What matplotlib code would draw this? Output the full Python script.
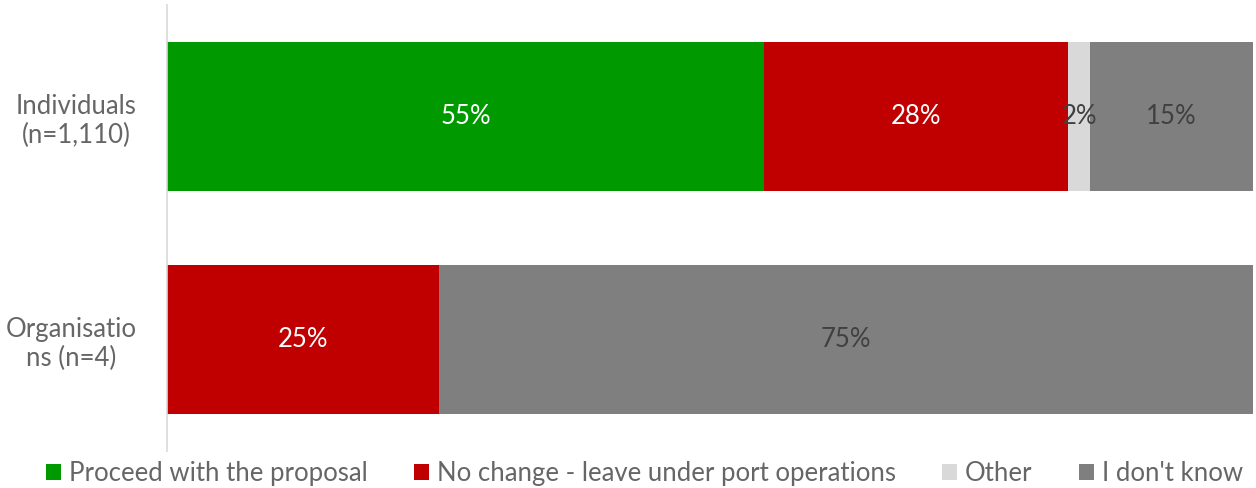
import numpy as np
import matplotlib
matplotlib.use("Agg")
import matplotlib.pyplot as plt

plt.rcParams["font.family"] = ["Lato", "DejaVu Sans"]

groups = ["Individuals\n(n=1,110)", "Organisatio\nns (n=4)"]
answers = ["Proceed with the proposal", "No change - leave under port operations",
           "Other", "I don't know"]
shares = {
    "Proceed with the proposal": [55, 0],
    "No change - leave under port operations": [28, 25],
    "Other": [2, 0],
    "I don't know": [15, 75],
}
colors = ["#009900", "#c00000", "#d9d9d9", "#7f7f7f"]
label_colors = ["white", "white", "#404040", "#404040"]
fsize = 18.5

fig = plt.figure(figsize=(12.56, 4.88), dpi=100)
ax = fig.add_axes([167 / 1256, 37 / 488, 1086 / 1256, 446 / 488])

y = np.arange(len(groups))
left = np.zeros(len(groups))
for ans, col, lc in zip(answers, colors, label_colors):
    vals = np.array(shares[ans], dtype=float)
    ax.barh(y, vals, left=left, height=0.664, color=col, label=ans)
    for yi, v, l in zip(y, vals, left):
        if v > 0:
            ax.text(l + v / 2, yi, f"{v:.0f}%", ha="center", va="center",
                    color=lc, fontsize=fsize)
    left += vals

ax.set_xlim(0, 100)
ax.set_ylim(1.5, -0.5)
ax.set_yticks(y)
ax.set_yticklabels(groups, fontsize=fsize, color="#666666", multialignment="center")
ax.tick_params(axis="y", length=0, pad=22)
ax.set_xticks([])
for s in ["top", "right", "bottom"]:
    ax.spines[s].set_visible(False)
ax.spines["left"].set_color("#d9d9d9")
ax.spines["left"].set_linewidth(1.2)

fig.legend(loc="center", bbox_to_anchor=(0.513, 0.03), ncol=4, frameon=False,
           fontsize=fsize, labelcolor="#666666", handlelength=0.6, handleheight=0.6,
           handletextpad=0.3, columnspacing=1.8, borderaxespad=0)

fig.savefig("out.png", dpi=100)
